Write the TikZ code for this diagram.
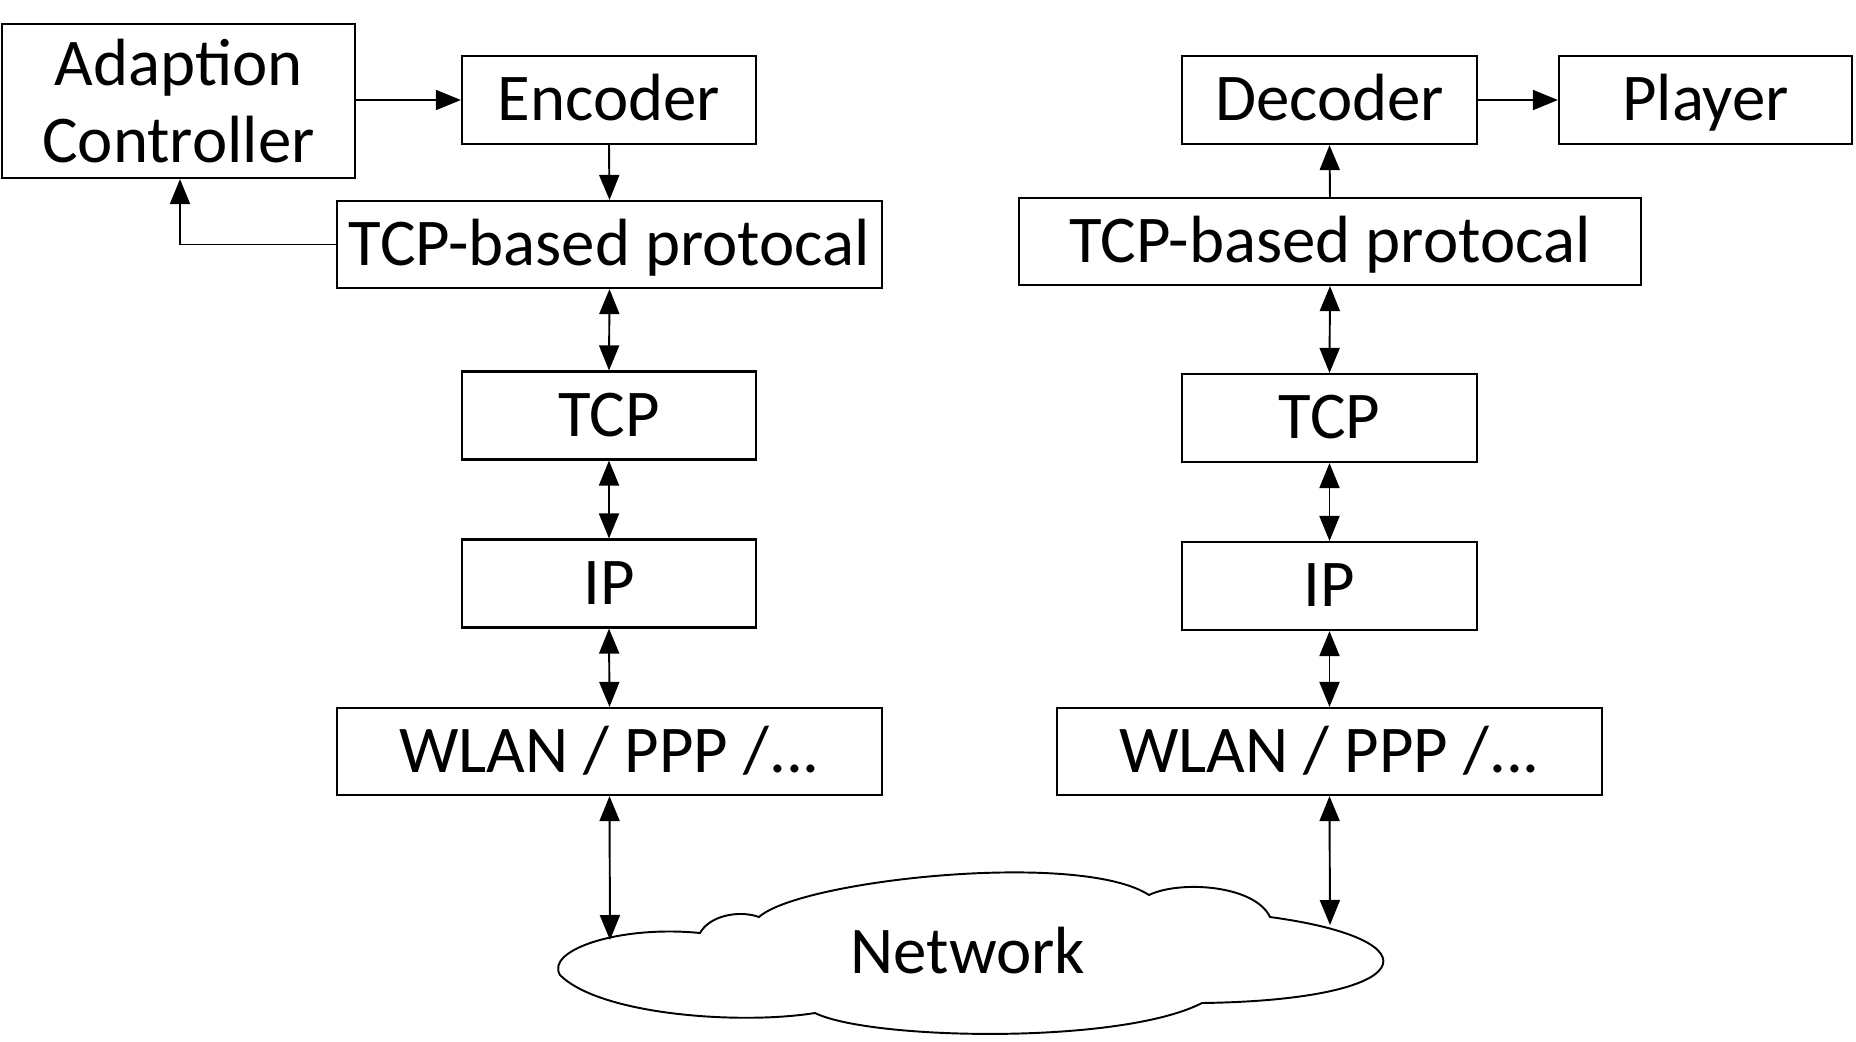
\documentclass[tikz,border=0pt]{standalone}
\usepackage{fontspec}
\setmainfont{Carlito}
\usetikzlibrary{arrows.meta}
\begin{document}
\begin{tikzpicture}[x=0.01cm,y=-0.01cm,
  box/.style={draw,line width=0.6pt,inner sep=0pt,font=\fontsize{19}{21.8}\selectfont,align=center},
  one/.style={text height=14pt,text depth=2.2pt},
  small/.style={box,one,minimum width=2.94cm,minimum height=0.88cm},
  wide/.style={box,one,minimum width=5.45cm,minimum height=0.87cm},
  tip/.style={Triangle[length=0.25cm,width=0.2cm]},
  conn/.style={line width=0.55pt,-{Triangle[length=0.25cm,width=0.2cm]}},
  biconn/.style={line width=0.55pt,{Triangle[length=0.25cm,width=0.2cm]}-{Triangle[length=0.25cm,width=0.2cm]}}]
\useasboundingbox (0,0) rectangle (1856,1041);
% left stack
\node[box,minimum width=3.53cm,minimum height=1.54cm] (ac) at (178.5,101) {Adaption\\Controller};
\node[small] (enc) at (609,100) {Encoder};
\node[wide] (tbl) at (609.5,244.5) {TCP-based protocal};
\node[small] (tcpl) at (609,415.5) {TCP};
\node[small] (ipl) at (609,583.5) {IP};
\node[wide] (wl) at (609.5,751.5) {WLAN / PPP /...};
% right stack
\node[small] (dec) at (1329.5,100) {Decoder};
\node[small,minimum width=2.93cm] (pl) at (1705.5,100) {Player};
\node[box,one,minimum width=6.22cm,minimum height=0.87cm] (tbr) at (1330,241.5) {TCP-based protocal};
\node[small] (tcpr) at (1329.5,418) {TCP};
\node[small] (ipr) at (1329.5,586) {IP};
\node[wide] (wr) at (1329.5,751.5) {WLAN / PPP /...};
% cloud
\draw[line width=0.55pt,fill=white] (815,1013) .. controls (740,1025) and (600,1015) .. (560,975)
  .. controls (545,950) and (620,925) .. (700,933)
  .. controls (710,915) and (740,910) .. (759,917)
  .. controls (800,880) and (1080,850) .. (1149,895)
  .. controls (1180,880) and (1255,885) .. (1270,917)
  .. controls (1440,940) and (1420,1000) .. (1202,1003)
  .. controls (1120,1045) and (870,1040) .. (815,1013) -- cycle;
\node[font=\fontsize{19}{21.8}\selectfont,one] (net) at (968,953) {Network};
\coordinate (cl) at (610,940);
\coordinate (cr) at (1330,925);
% connectors
\draw[conn] (ac.east |- enc.west) -- (enc.west);
\draw[conn] (enc.south) -- (tbl.north);
\draw[conn] (tbl.west) -| (ac.south -| 180,0);
\draw[biconn] (tbl.south) -- (tcpl.north);
\draw[biconn] (tcpl.south) -- (ipl.north);
\draw[biconn] (ipl.south) -- (wl.north);
\draw[biconn] (wl.south) -- (cl);
\draw[conn] (dec.east) -- (pl.west);
\draw[conn] (tbr.north) -- (dec.south);
\draw[biconn] (tbr.south) -- (tcpr.north);
\draw[biconn] (tcpr.south) -- (ipr.north);
\draw[biconn] (ipr.south) -- (wr.north);
\draw[biconn] (wr.south) -- (cr);
\end{tikzpicture}
\end{document}
